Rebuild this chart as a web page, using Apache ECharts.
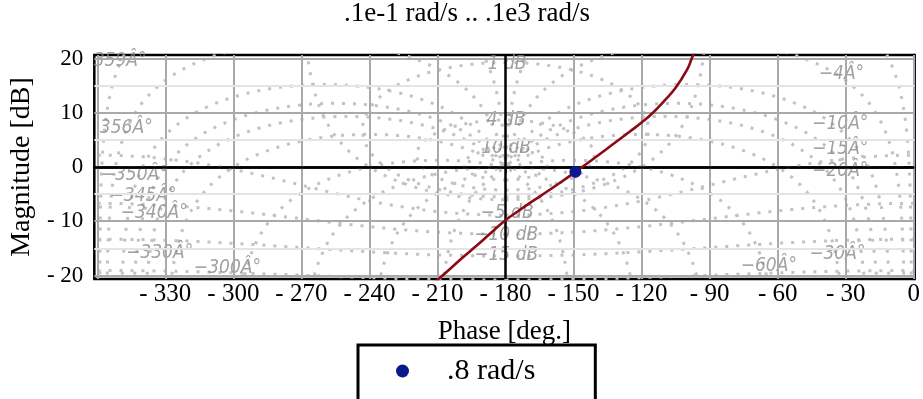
<!DOCTYPE html>
<html><head><meta charset="utf-8">
<script src="https://cdn.jsdelivr.net/npm/echarts@6/dist/echarts.min.js"></script>
<style>html,body{margin:0;padding:0;background:#fff}#c{width:923px;height:399px}</style>
</head><body><div id="c"></div>
<script>
// ---- data ----
const TITLE = '.1e-1 rad/s .. .1e3 rad/s';
const X_NAME = 'Phase [deg.]';
const Y_NAME = 'Magnitude [dB]';
const PHASE_TICKS = [-360,-330,-300,-270,-240,-210,-180,-150,-120,-90,-60,-30,0];
const PHASE_LABELS = [-330,-300,-270,-240,-210,-180,-150,-120,-90,-60,-30,0];
const PHASE_GRID = [-360,-330,-300,-270,-240,-210,-150,-120,-90,-60,-30,0];
const MAG_TICKS = [-20,-10,0,10,20];
const MAG_MINOR_TICKS = [-15,-5,5,15];
const MAG_GRID_MAJOR = [-20,-10,10,20];
const MAG_GRID_MINOR = [-15,-5,5,15];
// open-loop response
const CURVE_PHASE = [-211,-205,-200,-195,-190,-185,-180,-175,-170,-165,-160,-155,-150,-145,-140,-135,-130,-125,-120,-115,-110,-105,-100,-97.9,-96.8];
const CURVE_MAG   = [-21.2,-19.0,-17.1,-15.3,-13.5,-11.6,-9.8,-8.3,-6.85,-5.45,-4.05,-2.62,-1.15,0.35,1.88,3.45,5.02,6.6,8.2,10.0,12.2,14.6,17.9,20.0,21.2];
const MARKER_NAME = '.8 rad/s';
const MARKER_PHASE = [-149.2];
const MARKER_MAG = [-0.9];
// Nichols grid contour values
const M_CONTOURS_DB = [-20,-15,-10,-5,0,1,4,10];
const N_CONTOURS_DEG = [-1,-4,-10,-15,-20,-30,-60,-90,-120,-150,1,4,10,15,20,30,60,90,120,150];
// grid labels: text, phase, magnitude
const M_LABEL_TEXT = ['1 dB','4 dB','10 dB','\u22125 dB','\u221210 dB','\u221215 dB'];
const M_LABEL_PHASE = [-179.3,-179.7,-179.7,-179.3,-179.7,-179.7];
const M_LABEL_MAG = [18.9,8.6,3.45,-8.5,-12.6,-16.3];
const N_LABEL_TEXT = ['359\u00C2\u00B0','356\u00C2\u00B0','\u2212350\u00C2\u00B0','\u2212345\u00C2\u00B0','\u2212340\u00C2\u00B0','\u2212330\u00C2\u00B0','\u2212300\u00C2\u00B0','\u22124\u00C2\u00B0','\u221210\u00C2\u00B0','\u221215\u00C2\u00B0','\u221220\u00C2\u00B0','\u221230\u00C2\u00B0','\u221260\u00C2\u00B0'];
const N_LABEL_PHASE = [-349.9,-347.2,-343.7,-339.8,-334.9,-332.5,-302.6,-31.9,-32.4,-32.4,-32.4,-33.7,-63.9];
const N_LABEL_MAG = [19.6,7.1,-1.5,-5.4,-8.5,-15.8,-18.6,17.1,7.9,3.3,-0.8,-16.1,-18.3];

// ---- Nichols grid geometry (closed-loop T -> open-loop G = T/(1-T)) ----
function olPoint(tr, ti){
  const br = 1 - tr, bi = -ti, d = br*br + bi*bi;
  const gr = (tr*br + ti*bi)/d, gi = (ti*br - tr*bi)/d;
  const mag = 20*Math.log10(Math.hypot(gr, gi));
  let ph = Math.atan2(gi, gr)*180/Math.PI;
  if (ph > 0) ph -= 360;
  return [ph, mag];
}
function breakLine(pts){
  const out = []; let prev = null;
  for (const p of pts){
    const inside = isFinite(p[1]) && p[1] > -30 && p[1] < 30;
    if (!inside){ if (out.length && out[out.length-1][0] !== '-') out.push(['-','-']); prev = null; continue; }
    if (prev && Math.abs(p[0]-prev[0]) > 90) out.push(['-','-']);
    out.push(p); prev = p;
  }
  return out;
}
function mContour(mdb){
  const M = Math.pow(10, mdb/20), pts = [];
  for (let k = -1800; k <= 1800; k++){
    if (k === 0) continue;
    const th = k*0.1*Math.PI/180;
    pts.push(olPoint(M*Math.cos(th), M*Math.sin(th)));
  }
  return breakLine(pts);
}
function nContour(ndeg){
  const nu = ndeg*Math.PI/180, pts = [];
  for (let k = -1500; k <= 1500; k++){
    const r = Math.pow(10, k/500);
    pts.push(olPoint(r*Math.cos(nu), r*Math.sin(nu)));
  }
  return breakLine(pts);
}

const SERIF = 'Liberation Serif';
const gridStyle = {type:[3,8], width:3, color:'#c2c2c2', cap:'butt'};
const series = [];

// reference grid lines
series.push({
  type:'line', data:[], silent:true, z:1, animation:false,
  markLine:{ silent:true, symbol:'none', label:{show:false}, animation:false,
    data: [
      ...PHASE_GRID.map(v => ({xAxis:v, lineStyle:{color:'#a9a9a9', width:2, type:'solid'}})),
      ...MAG_GRID_MAJOR.map(v => ({yAxis:v, lineStyle:{color:'#a9a9a9', width:2, type:'solid'}})),
      ...MAG_GRID_MINOR.map(v => ({yAxis:v, lineStyle:{color:'#e4e4e4', width:2, type:'solid'}}))
    ]}
});
M_CONTOURS_DB.forEach(m => series.push({type:'line', data:mContour(m), showSymbol:false, silent:true, z:2, animation:false, lineStyle:gridStyle, connectNulls:false}));
N_CONTOURS_DEG.forEach(n => series.push({type:'line', data:nContour(n), showSymbol:false, silent:true, z:2, animation:false, lineStyle:gridStyle, connectNulls:false}));
// black axes lines at -180 deg and 0 dB
series.push({
  type:'line', data:[], silent:true, z:3, animation:false,
  markLine:{ silent:true, symbol:'none', label:{show:false}, animation:false,
    lineStyle:{color:'#000', width:2.5, type:'solid'},
    data:[{xAxis:-180},{yAxis:0}]}
});
// grid labels
const labelStyle = {show:true, position:'inside', fontFamily:"'DejaVu Sans Condensed', 'Liberation Sans Narrow', 'Liberation Sans', sans-serif", fontStyle:'italic', fontSize:19, color:'#8a8a8a'};
series.push({
  type:'scatter', symbolSize:0, silent:true, z:4, animation:false, clip:false,
  data: M_LABEL_TEXT.map((t,i) => ({value:[M_LABEL_PHASE[i], M_LABEL_MAG[i]], name:t}))
        .concat(N_LABEL_TEXT.map((t,i) => ({value:[N_LABEL_PHASE[i], N_LABEL_MAG[i]], name:t}))),
  label: Object.assign({formatter: p => p.name}, labelStyle)
});
// frequency response curve
series.push({
  type:'line', data: CURVE_PHASE.map((p,i) => [p, CURVE_MAG[i]]), smooth:0.5,
  showSymbol:false, silent:true, z:5, animation:false,
  lineStyle:{color:'#8b0a16', width:2.6}
});
series.push({
  type:'scatter', name:MARKER_NAME, data: MARKER_PHASE.map((p,i) => [p, MARKER_MAG[i]]),
  symbol:'circle', symbolSize:12, z:6, animation:false,
  itemStyle:{color:'#0b1a8a', opacity:1}
});

const fmt = v => (v < 0 ? '- ' + Math.abs(v) : String(v));

const chart = echarts.init(document.getElementById('c'), null, {renderer:'canvas'});
chart.setOption({
  animation:false,
  backgroundColor:'#fff',
  grid:{left:93, right:2.5, top:55, bottom:120, show:true, borderColor:'#000', borderWidth:2.5, backgroundColor:'transparent'},
  graphic:[{type:'text', x:467, y:14, style:{text:TITLE, font:'27px "Liberation Serif"', fill:'#000', align:'center', verticalAlign:'middle'}}],
  legend:{
    data:[MARKER_NAME], left:358, top:345, orient:'horizontal', selectedMode:false,
    borderColor:'#000', borderWidth:3, backgroundColor:'#fff',
    padding:[9,60,40,38], itemWidth:13, itemHeight:15, icon:'circle',
    itemStyle:{opacity:1},
    textStyle:{fontFamily:SERIF, fontSize:30, color:'#000', padding:[0,0,0,33], lineHeight:34}
  },
  xAxis:{
    type:'value', min:-361.3, max:0.3,
    splitLine:{show:false},
    axisLine:{show:true, lineStyle:{color:'#000', width:2.5}},
    axisTick:{show:true, customValues:PHASE_TICKS, length:6, lineStyle:{color:'#000', width:1.5}},
    axisLabel:{customValues:PHASE_LABELS, formatter:fmt, fontFamily:SERIF, fontSize:25, color:'#000', margin:3},
    name:X_NAME, nameLocation:'middle', nameGap:39,
    nameTextStyle:{fontFamily:SERIF, fontSize:27, color:'#000'}
  },
  yAxis:[{
    type:'value', min:-20.65, max:20.65,
    splitLine:{show:false},
    axisLine:{show:true, lineStyle:{color:'#000', width:2.5}},
    axisTick:{show:true, customValues:MAG_TICKS, length:10, lineStyle:{color:'#000', width:1.5}},
    axisLabel:{customValues:MAG_TICKS, formatter:fmt, fontFamily:SERIF, fontSize:23, color:'#000', margin:11},
    name:Y_NAME, nameLocation:'middle', nameGap:58,
    nameTextStyle:{fontFamily:SERIF, fontSize:28, color:'#000'}
  },{
    type:'value', min:-20.65, max:20.65, position:'left',
    splitLine:{show:false}, axisLine:{show:false}, axisLabel:{show:false},
    axisTick:{show:true, inside:true, customValues:MAG_MINOR_TICKS, length:4, lineStyle:{color:'#000', width:1.5}}
  }],
  series
});
</script></body></html>
